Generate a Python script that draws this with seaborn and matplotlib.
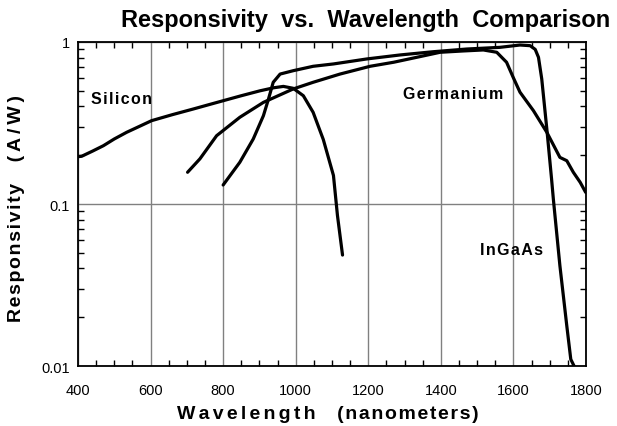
import numpy as np
import pandas as pd
import seaborn as sns
import matplotlib
matplotlib.use("Agg")
import matplotlib.pyplot as plt
from matplotlib.ticker import LogLocator, MultipleLocator, NullFormatter, FixedLocator, FixedFormatter

# values
si_nm = [400, 410, 440, 470, 500, 534, 570, 603, 660, 718, 760, 800, 850, 902, 940, 966, 993, 1021, 1048, 1076, 1104, 1115, 1129]
si_resp = [0.196, 0.197, 0.212, 0.229, 0.252, 0.277, 0.302, 0.327, 0.356, 0.386, 0.41, 0.434, 0.466, 0.50, 0.522, 0.532, 0.518, 0.466, 0.368, 0.25, 0.15, 0.085, 0.0484]

ge_nm = [702, 736, 782, 846, 911, 993, 1048, 1122, 1205, 1270, 1333, 1398, 1460, 1517, 1554, 1581, 1600, 1618, 1655, 1692, 1728, 1747, 1765, 1784, 1799]
ge_resp = [0.157, 0.19, 0.264, 0.343, 0.424, 0.513, 0.564, 0.634, 0.708, 0.75, 0.804, 0.864, 0.88, 0.893, 0.864, 0.75, 0.6, 0.49, 0.377, 0.277, 0.194, 0.185, 0.157, 0.136, 0.118]

ingaas_nm = [800, 846, 883, 911, 925, 938, 957, 993, 1048, 1104, 1196, 1288, 1379, 1471, 1563, 1618, 1646, 1660, 1669, 1678, 1692, 1705, 1710, 1728, 1747, 1758, 1768]
ingaas_resp = [0.131, 0.181, 0.252, 0.351, 0.445, 0.564, 0.634, 0.665, 0.708, 0.732, 0.786, 0.832, 0.871, 0.905, 0.927, 0.958, 0.949, 0.9, 0.804, 0.591, 0.29, 0.143, 0.107, 0.0416, 0.0177, 0.011, 0.0099]

labels = ["Silicon", "Germanium", "InGaAs"]
label_pos = [(437, 0.445), (1296, 0.478), (1508, 0.0527)]
x_ticks = [400, 600, 800, 1000, 1200, 1400, 1600, 1800]
y_ticks = [0.01, 0.1, 1]
y_tick_labels = ["0.01", "0.1", "1"]

df = pd.concat([
    pd.DataFrame({"nm": si_nm, "resp": si_resp, "det": "Silicon"}),
    pd.DataFrame({"nm": ge_nm, "resp": ge_resp, "det": "Germanium"}),
    pd.DataFrame({"nm": ingaas_nm, "resp": ingaas_resp, "det": "InGaAs"}),
])


def spaced(s, sp="\u200a"):
    # the original text is letter-spaced; hair/thin spaces get close to that
    return sp.join(s)


sns.set_style("white")
plt.rcParams["font.family"] = ["Liberation Sans", "DejaVu Sans"]
plt.rcParams.update({"text.color": "black", "axes.labelcolor": "black",
                     "xtick.color": "black", "ytick.color": "black"})

fig = plt.figure(figsize=(6.17, 4.27), dpi=100)
ax = fig.add_axes([0.1264, 0.1405, 0.8234, 0.7588])

sns.lineplot(data=df, x="nm", y="resp", units="det", estimator=None, sort=False,
             color="black", linewidth=2.3, ax=ax, legend=False)

ax.set_yscale("log")
ax.set_xlim(400, 1800)
ax.set_ylim(0.01, 1)
ax.set_xlabel("")
ax.set_ylabel("")

ax.xaxis.set_major_locator(FixedLocator(x_ticks))
ax.xaxis.set_minor_locator(MultipleLocator(50))
ax.yaxis.set_major_locator(FixedLocator(y_ticks))
ax.yaxis.set_major_formatter(FixedFormatter(y_tick_labels))
ax.yaxis.set_minor_locator(LogLocator(base=10, subs=np.arange(2, 10)))
ax.yaxis.set_minor_formatter(NullFormatter())

ax.tick_params(which="both", direction="in", top=True, right=True, bottom=True, left=True,
               color="black", labelcolor="black")
ax.tick_params(which="major", length=0, labelsize=10.5)
ax.tick_params(which="minor", length=4, width=1)
ax.tick_params(axis="x", which="major", pad=12)
ax.tick_params(axis="y", which="major", pad=6)

ax.grid(True, which="major", color="#808080", linewidth=1)
for s in ax.spines.values():
    s.set_color("black")
    s.set_linewidth(1.3)

for lab, (lx, ly) in zip(labels, label_pos):
    ax.text(lx, ly, spaced(lab), fontsize=11.5, fontweight="bold", va="center", ha="left")

fig.text(328 / 617, 1 - 415 / 427,
         spaced("Wavelength", "\u200a\u200a") + "    " + spaced("(nanometers)"),
         fontsize=14, fontweight="bold", ha="center", va="center")
fig.text(17 / 617, 1 - 209 / 427,
         spaced("Responsivity") + "    " + spaced("(A/W)", "\u2009"),
         fontsize=14, fontweight="bold", ha="center", va="center", rotation=90)
fig.text(366 / 617, 1 - 20 / 427, "Responsivity  vs.  Wavelength  Comparison",
         fontsize=17, fontweight="bold", ha="center", va="center")

fig.savefig("out.png", dpi=100)
